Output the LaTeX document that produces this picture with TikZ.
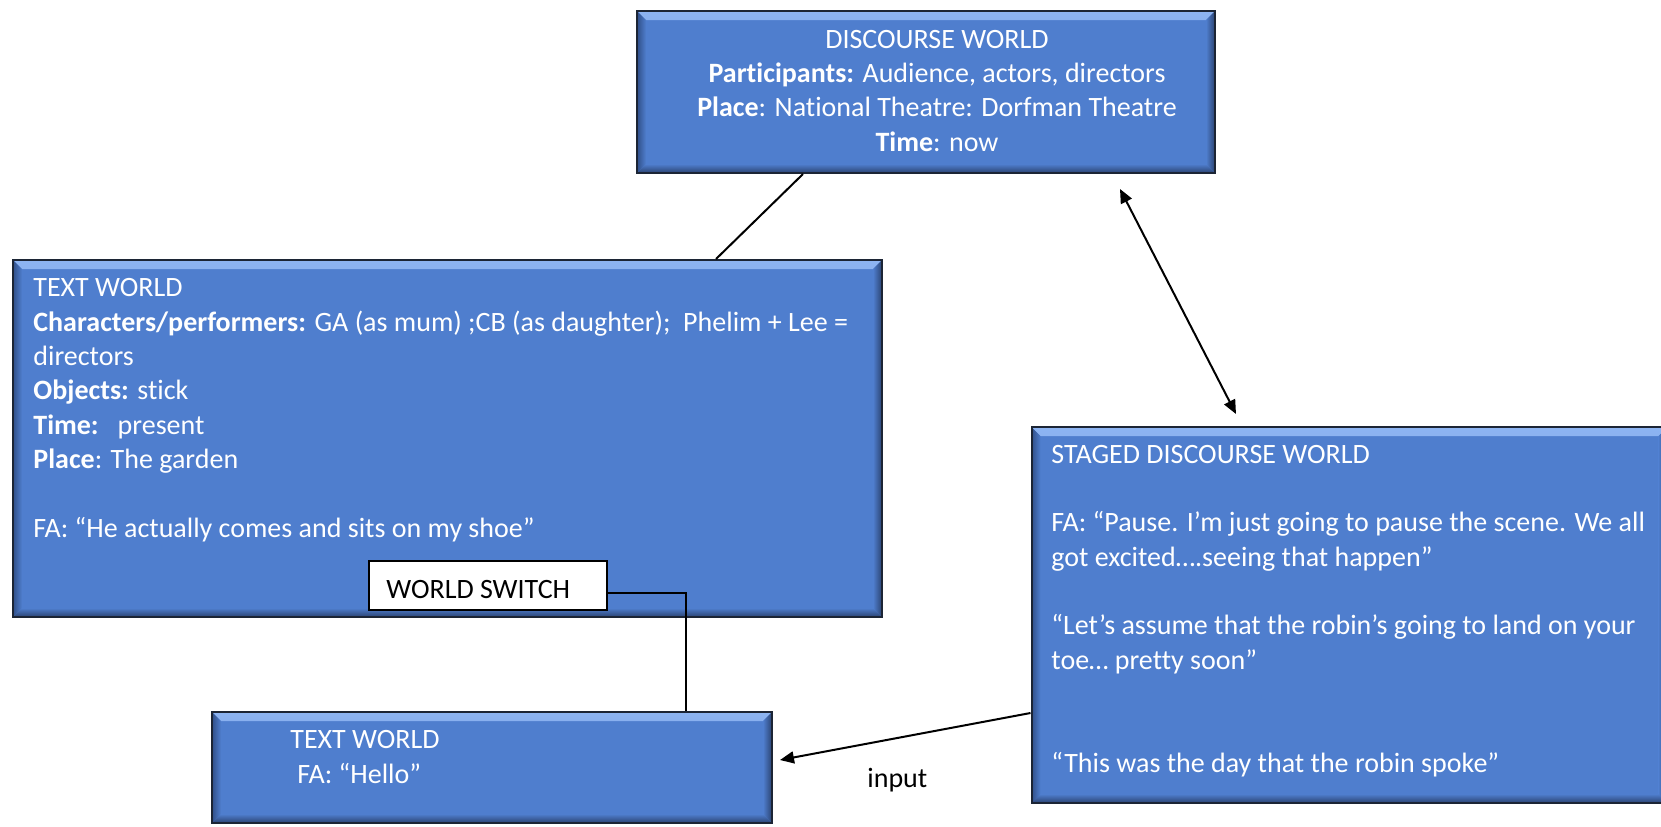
\documentclass[tikz,border=0pt]{standalone}
\usepackage{fontspec}
\setmainfont[Ligatures=NoCommon]{Carlito}
\usetikzlibrary{arrows.meta}
\definecolor{boxfill}{HTML}{4F7ECE}
\definecolor{boxedge}{HTML}{1C2535}
\definecolor{bevtop}{HTML}{8DB4F2}
\definecolor{bevleft}{HTML}{304F88}
\definecolor{bevlow}{HTML}{2B4371}
\newcommand{\bev}{4.5pt}
\tikzset{
  worldbox/.style={rectangle, draw=boxedge, line width=1pt, fill=boxfill, inner sep=0pt,
    path picture={
      % top bevel
      \shade[top color=bevtop, bottom color=boxfill]
        (path picture bounding box.north west) -- (path picture bounding box.north east)
        -- ([xshift=-\bev,yshift=-\bev]path picture bounding box.north east)
        -- ([xshift=\bev,yshift=-\bev]path picture bounding box.north west) -- cycle;
      % left bevel
      \shade[left color=bevleft, right color=boxfill]
        (path picture bounding box.north west) -- ([xshift=\bev,yshift=-\bev]path picture bounding box.north west)
        -- ([xshift=\bev,yshift=\bev]path picture bounding box.south west)
        -- (path picture bounding box.south west) -- cycle;
      % bottom bevel
      \shade[top color=boxfill, bottom color=bevlow]
        (path picture bounding box.south west) -- ([xshift=\bev,yshift=\bev]path picture bounding box.south west)
        -- ([xshift=-\bev,yshift=\bev]path picture bounding box.south east)
        -- (path picture bounding box.south east) -- cycle;
      % right bevel
      \shade[left color=boxfill, right color=bevlow]
        (path picture bounding box.north east) -- ([xshift=-\bev,yshift=-\bev]path picture bounding box.north east)
        -- ([xshift=-\bev,yshift=\bev]path picture bounding box.south east)
        -- (path picture bounding box.south east) -- cycle;
    }},
  labelbox/.style={rectangle, draw=black, line width=0.6pt, fill=white, inner sep=0pt},
  boxtext/.style={text=white, inner sep=0pt, font=\fontsize{14}{17.15}\selectfont},
  plaintext/.style={text=black, inner sep=0pt, font=\fontsize{14}{17.15}\selectfont},
  link/.style={draw=black, line width=1pt},
  tip/.style={-{Triangle[length=7pt,width=6pt]}},
}
\begin{document}
\begin{tikzpicture}[x=0.5pt, y=-0.5pt]
\useasboundingbox (0,0) rectangle (1661,826);

% world boxes
\node[worldbox, minimum width=289pt, minimum height=81pt] (dw) at (926,92) {};
\node[worldbox, minimum width=434.5pt, minimum height=178.5pt] (tw) at (447.5,438.5) {};
\node[worldbox, minimum width=318pt, minimum height=188pt] (sd) at (1349.5,615) {};
\node[worldbox, minimum width=280pt, minimum height=55.5pt] (tb) at (492,767.5) {};
\node[labelbox, minimum width=119pt, minimum height=24.5pt] (ws) at (488,585.5) {};

% texts (multi-line nodes are anchored on the baseline of their last line)
\node[boxtext, align=center, anchor=base] (dwtext) at (937,151) {%
DISCOURSE WORLD\\
\textbf{Participants:} Audience, actors, directors\\
\textbf{Place}: National Theatre: Dorfman Theatre\\
\textbf{Time}: now};

\node[boxtext, align=left, anchor=base west] (twtext) at (33,537) {%
TEXT WORLD\\
\textbf{Characters/performers:} GA (as mum) ;CB (as daughter);\ \ Phelim + Lee =\\
directors\\
\textbf{Objects:} stick\\
\textbf{Time:}\ \ \ present\\
\textbf{Place}: The garden\\
\mbox{}\\
FA: “He actually comes and sits on my shoe”};

\node[boxtext, align=left, anchor=base west] (sdtext) at (1051,772) {%
STAGED DISCOURSE WORLD\\
\mbox{}\\
FA: “Pause. I’m just going to pause the scene. We all\\
got excited….seeing that happen”\\
\mbox{}\\
“Let’s assume that the robin’s going to land on your\\
toe… pretty soon”\\
\mbox{}\\
\mbox{}\\
“This was the day that the robin spoke”};

\node[boxtext, align=left, anchor=base west] (tbtext) at (290,783) {%
TEXT WORLD\\
\hspace*{3.5pt}FA: “Hello”};

\node[plaintext, anchor=base west] (wstext) at (386,598) {WORLD SWITCH};
\node[plaintext, anchor=base west] (inlabel) at (867,787) {input};

% connectors
\draw[link] ([xshift=-61.5pt]dw.south) -- ([xshift=134.25pt]tw.north);
\coordinate (dwend) at ([xshift=97pt,yshift=-7.5pt]dw.south);
\coordinate (sdend) at ([xshift=-56.75pt,yshift=6pt]sd.north);
\draw[link, {Triangle[length=7pt,width=6pt]}-{Triangle[length=7pt,width=6pt]}] (dwend) -- (sdend);
\draw[link] ([yshift=-3.75pt]ws.east) -| ([xshift=97pt]tb.north);
\draw[link, tip] ([yshift=-49pt]sd.west) -- ([xshift=3.5pt,yshift=3.75pt]tb.east);
\end{tikzpicture}
\end{document}
